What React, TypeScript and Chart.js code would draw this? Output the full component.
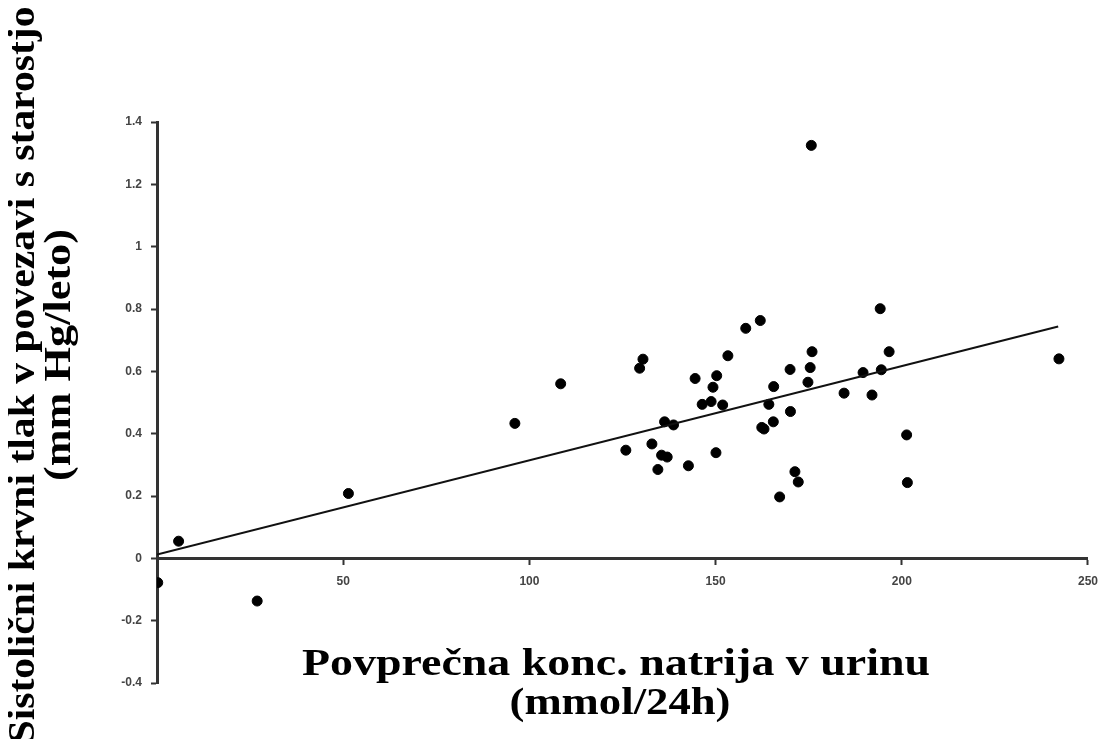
import React, { useEffect, useRef } from 'react';
import { Chart, registerables } from 'chart.js';

Chart.register(...registerables);

// Average urinary sodium (mmol/24h)
const sodiumX = [
  0.2, 5.8, 26.9, 51.4, 96.1, 108.4, 130.5, 129.6, 125.9, 132.9,
  135.5, 137.0, 134.5, 136.3, 138.7, 142.7, 144.5, 146.4, 148.8, 150.3,
  149.3, 151.9, 150.1, 153.3, 158.1, 162.0, 165.6, 164.3, 162.4, 163.0,
  165.5, 170.0, 170.1, 171.3, 172.2, 167.2, 175.9, 175.4, 174.8, 175.7,
  194.2, 196.6, 194.5, 189.6, 184.5, 192.0, 201.3, 201.5, 242.2,
];
// Systolic BP change with age (mm Hg/year)
const pressureY = [
  -0.078, 0.055, -0.137, 0.208, 0.433, 0.56, 0.639, 0.61, 0.347, 0.367,
  0.331, 0.325, 0.285, 0.438, 0.428, 0.297, 0.577, 0.494, 0.503, 0.586,
  0.549, 0.492, 0.339, 0.65, 0.738, 0.763, 0.551, 0.494, 0.42, 0.415,
  0.438, 0.606, 0.471, 0.278, 0.245, 0.197, 0.663, 0.612, 0.565, 1.325,
  0.801, 0.663, 0.605, 0.596, 0.53, 0.524, 0.396, 0.243, 0.64,
];
// Regression line end points
const trendX = [0, 242];
const trendY = [0.012, 0.744];

const xTitleLines = ['Povprečna konc. natrija v urinu', '(mmol/24h)'];
const yTitleLines = ['Sistolični krvni tlak v povezavi s starostjo', '(mm Hg/leto)'];

const SERIF = '"Liberation Serif", "Times New Roman", serif';

const titlePlugin = {
  id: 'stretchedTitles',
  afterDraw(chart: any) {
    const ctx = chart.ctx as CanvasRenderingContext2D;
    const draw = (text: string, px: number, py: number, size: number, width: number, rotate: boolean) => {
      ctx.save();
      ctx.font = `bold ${size}px ${SERIF}`;
      const w = ctx.measureText(text).width;
      ctx.translate(px, py);
      if (rotate) ctx.rotate(-Math.PI / 2);
      ctx.scale(width / w, 1);
      ctx.textAlign = 'center';
      ctx.textBaseline = 'alphabetic';
      ctx.fillStyle = '#000';
      ctx.fillText(text, 0, 0);
      ctx.restore();
    };
    // x-axis title (horizontal)
    draw(xTitleLines[0], 608, 667, 38, 628, false);
    draw(xTitleLines[1], 612, 706, 38, 221, false);
    // y-axis title (rotated)
    draw(yTitleLines[0], 26, 367, 38, 737, true);
    draw(yTitleLines[1], 62, 347, 38, 252, true);
  },
};

export default function App() {
  const canvasRef = useRef<HTMLCanvasElement | null>(null);

  useEffect(() => {
    if (!canvasRef.current) return;
    const points = sodiumX.map((x, i) => ({ x, y: pressureY[i] }));
    const trend = trendX.map((x, i) => ({ x, y: trendY[i] }));
    const tickFont = { family: '"Liberation Sans", Arial, sans-serif', size: 12, weight: 'bold' as const };
    const chart = new Chart(canvasRef.current, {
      type: 'scatter',
      data: {
        datasets: [
          {
            type: 'line',
            data: trend,
            borderColor: '#111',
            borderWidth: 2,
            pointRadius: 0,
            fill: false,
          } as any,
          {
            data: points,
            backgroundColor: '#000',
            borderColor: '#000',
            pointRadius: 5,
            pointStyle: 'circle',
          },
        ],
      },
      options: {
        responsive: false,
        animation: false,
        layout: { padding: { top: 114, bottom: 56, right: 11, left: 0 } },
        plugins: {
          legend: { display: false },
          tooltip: { enabled: false },
          title: { display: false },
        },
        scales: {
          x: {
            type: 'linear',
            position: { y: 0 } as any,
            min: 0,
            max: 250,
            ticks: {
              stepSize: 50,
              color: '#444',
              font: tickFont,
              padding: 11,
              maxRotation: 0,
              callback: (v: any) => (v === 0 ? '' : String(v)),
            },
            grid: {
              display: true,
              drawOnChartArea: false,
              drawTicks: true,
              tickLength: 5,
              tickWidth: 2,
              tickColor: '#333',
            },
            border: { display: true, color: '#333', width: 3 },
          },
          y: {
            type: 'linear',
            position: 'left',
            min: -0.4,
            max: 1.4,
            afterFit: (scale: any) => {
              scale.width = 149;
            },
            ticks: {
              stepSize: 0.2,
              color: '#444',
              font: tickFont,
              padding: 9,
              callback: (v: any) => String(Number(Number(v).toFixed(1))),
            },
            grid: {
              display: true,
              drawOnChartArea: false,
              drawTicks: true,
              tickLength: 6,
              tickWidth: 2,
              tickColor: '#333',
            },
            border: { display: true, color: '#333', width: 3 },
          },
        },
      },
      plugins: [titlePlugin],
    });
    return () => chart.destroy();
  }, []);

  return (
    <div style={{ width: 1101, height: 731 }}>
      <canvas ref={canvasRef} width={1101} height={731} />
    </div>
  );
}
